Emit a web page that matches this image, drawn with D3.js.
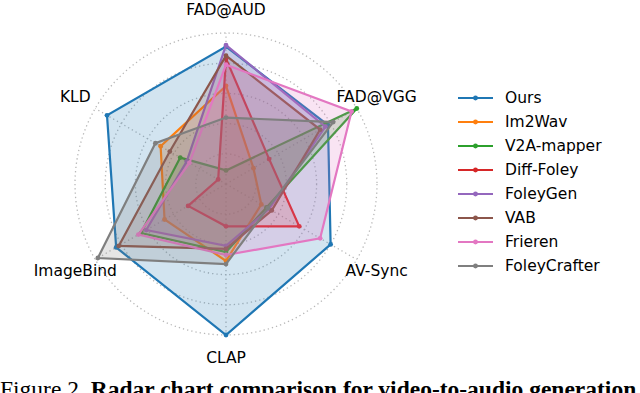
<!DOCTYPE html>
<html>
<head>
<meta charset="utf-8">
<script src="https://cdn.jsdelivr.net/npm/d3@7"></script>
<style>
  body { margin: 0; background: #fff; }
  svg { display: block; }
</style>
</head>
<body>
<div id="chart"></div>
<script>
// axes, clockwise from top
var axes = ["FAD@AUD", "FAD@VGG", "AV-Sync", "CLAP", "ImageBind", "KLD"];

// normalised scores
var ours         = [0.91, 0.78, 0.80, 1.00, 0.84, 0.91];
var im2wav       = [0.65, 0.21, 0.27, 0.51, 0.47, 0.50];
var v2aMapper    = [0.09, 1.00, 0.31, 0.45, 0.65, 0.35];
var diffFoley    = [0.83, 0.33, 0.56, 0.28, 0.29, 0.06];
var foleyGen     = [0.92, 0.76, 0.33, 0.41, 0.61, 0.30];
var vab          = [0.85, 0.72, 0.35, 0.43, 0.82, 0.43];
var frieren      = [0.79, 0.96, 0.72, 0.47, 0.67, 0.28];
var foleyCrafter = [0.44, 0.82, 0.32, 0.53, 0.98, 0.54];

var names  = ["Ours", "Im2Wav", "V2A-mapper", "Diff-Foley", "FoleyGen", "VAB", "Frieren", "FoleyCrafter"];
var colors = ["#1f77b4", "#ff7f0e", "#2ca02c", "#d62728", "#9467bd", "#8c564b", "#e377c2", "#7f7f7f"];
var series = [ours, im2wav, v2aMapper, diffFoley, foleyGen, vab, frieren, foleyCrafter];

var ringTicks = [0.2, 0.4, 0.6, 0.8, 1.0];

var width = 640, height = 393;
var cx = 226, cy = 184;

var svg = d3.select("#chart").append("svg")
    .attr("width", width)
    .attr("height", height);

var r = d3.scaleLinear().domain([0, 1]).range([0, 151]);
var angle = d3.scalePoint().domain(d3.range(axes.length + 1)).range([0, 2 * Math.PI]);

var g = svg.append("g").attr("transform", "translate(" + cx + "," + cy + ")");

//Grid rings
g.selectAll(".ring")
    .data(ringTicks)
    .enter()
    .append("circle")
    .attr("r", d => r(d))
    .attr("fill", "none")
    .attr("stroke", "#b8b8b8")
    .attr("stroke-width", 1.3)
    .attr("stroke-dasharray", "1.3,3");

//Spokes
g.selectAll(".spoke")
    .data(axes)
    .enter()
    .append("line")
    .attr("x1", 0).attr("y1", 0)
    .attr("x2", (d, i) => r(1) * Math.sin(angle(i)))
    .attr("y2", (d, i) => -r(1) * Math.cos(angle(i)))
    .attr("stroke", "#b8b8b8")
    .attr("stroke-width", 1.3)
    .attr("stroke-dasharray", "1.3,3");

//Axis labels
g.selectAll(".axis-label")
    .data(axes)
    .enter()
    .append("text")
    .attr("x", (d, i) => 174 * Math.sin(angle(i)))
    .attr("y", (d, i) => -174 * Math.cos(angle(i)))
    .attr("text-anchor", "middle")
    .attr("dominant-baseline", "central")
    .style("font-family", "DejaVu Sans")
    .style("font-size", "15.5px")
    .text(d => d);

var radial = d3.lineRadial()
    .angle((d, i) => angle(i))
    .radius(d => r(d))
    .curve(d3.curveLinearClosed);

//Series polygons
series.forEach(function(vals, k) {
    g.append("path")
        .attr("d", radial(vals))
        .attr("fill", colors[k])
        .attr("fill-opacity", 0.2)
        .attr("stroke", "none");
    g.append("path")
        .attr("d", radial(vals))
        .attr("fill", "none")
        .attr("stroke", colors[k])
        .attr("stroke-width", 2.2)
        .attr("stroke-linejoin", "miter");
    g.selectAll(".pt" + k)
        .data(vals)
        .enter()
        .append("circle")
        .attr("cx", (d, i) => r(d) * Math.sin(angle(i)))
        .attr("cy", (d, i) => -r(d) * Math.cos(angle(i)))
        .attr("r", 2.4)
        .attr("fill", colors[k]);
});

//Legend
var legend = svg.append("g").attr("transform", "translate(458,98)");
var rows = legend.selectAll(".row")
    .data(names)
    .enter()
    .append("g")
    .attr("transform", (d, i) => "translate(0," + i * 24 + ")");
rows.append("line")
    .attr("x1", 0).attr("x2", 35)
    .attr("stroke", (d, i) => colors[i])
    .attr("stroke-width", 2.2);
rows.append("circle")
    .attr("cx", 17.5).attr("r", 2.4)
    .attr("fill", (d, i) => colors[i]);
rows.append("text")
    .attr("x", 47)
    .attr("dominant-baseline", "central")
    .style("font-family", "DejaVu Sans")
    .style("font-size", "15.5px")
    .text(d => d);

//Caption (cut by the bottom edge, as in the source)
var cap = svg.append("text")
    .attr("x", 0)
    .attr("y", 397)
    .style("font-family", "Liberation Serif")
    .style("font-size", "23.5px");
cap.append("tspan").text("Figure 2. ");
cap.append("tspan").style("font-weight", "bold").text("Radar chart comparison for video-to-audio generation");
</script>
</body>
</html>
